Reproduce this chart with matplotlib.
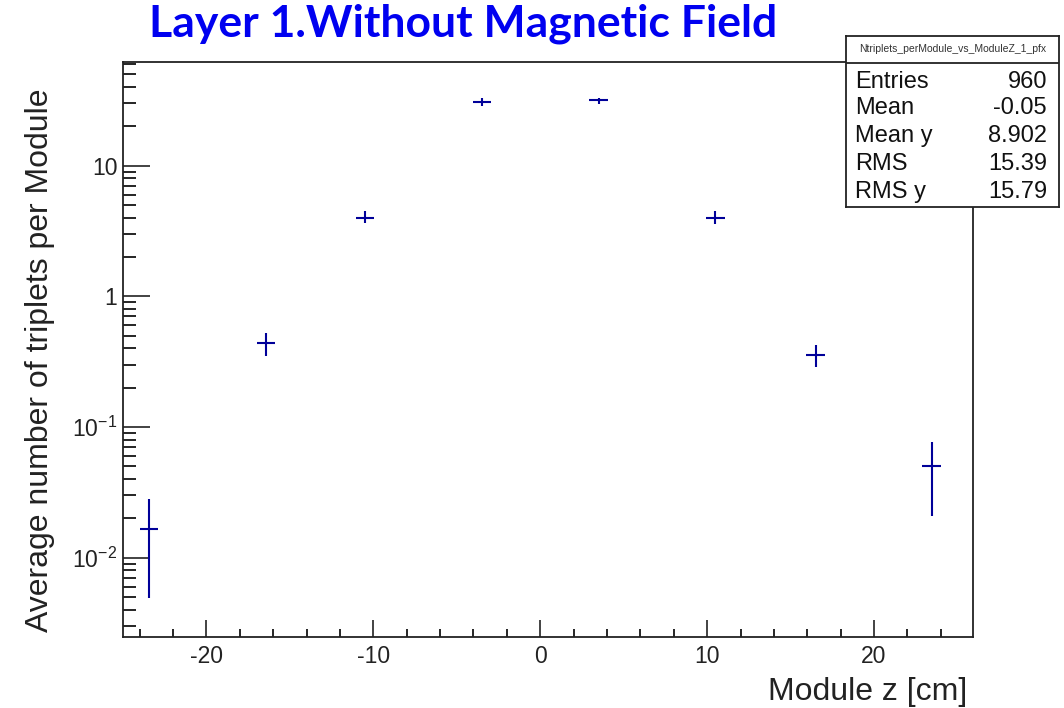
import numpy as np
import matplotlib
matplotlib.use('Agg')
from matplotlib import pyplot as plt
from matplotlib.ticker import LogLocator, MultipleLocator, FixedLocator, FixedFormatter

plt.rcParams['font.family'] = ['Liberation Sans', 'DejaVu Sans']
plt.rcParams['axes.unicode_minus'] = False
plt.rcParams['mathtext.fontset'] = 'custom'
plt.rcParams['mathtext.rm'] = 'Liberation Sans'

# profile of triplets per module vs module z
z = [-23.45, -16.45, -10.5, -3.5, 3.5, 10.5, 16.5, 23.45]
z_halfwidth = 0.55
avg = [0.0166, 0.44, 4.0, 30.7, 31.7, 3.98, 0.356, 0.050]
avg_hi = [0.0281, 0.522, 4.5, 32.8, 32.8, 4.5, 0.425, 0.0772]
avg_lo = [0.00492, 0.352, 3.62, 28.8, 29.6, 3.55, 0.290, 0.0208]

stat_names = ['Entries', 'Mean', 'Mean y', 'RMS', 'RMS y']
stat_values = ['960', '-0.05', '8.902', '15.39', '15.79']
hist_name = 'Ntriplets_perModule_vs_ModuleZ_1_pfx'

avg = np.array(avg)
yerr = [avg - np.array(avg_lo), np.array(avg_hi) - avg]

fig = plt.figure(figsize=(10.64, 7.08), dpi=100)
ax = fig.add_axes([123/1064, 71/708, 850/1064, 575/708])

ax.errorbar(z, avg, xerr=z_halfwidth, yerr=yerr, fmt='none',
            ecolor='#000099', elinewidth=1.5, capsize=0)

ax.set_yscale('log')
ax.set_xlim(-25.0, 25.93)
ax.set_ylim(0.00247, 62)

ax.xaxis.set_major_locator(MultipleLocator(10))
ax.xaxis.set_minor_locator(MultipleLocator(2))
ax.yaxis.set_major_locator(FixedLocator([0.01, 0.1, 1, 10]))
ax.yaxis.set_major_formatter(FixedFormatter([r'$10^{-2}$', r'$10^{-1}$', '1', '10']))
ax.yaxis.set_minor_locator(LogLocator(base=10, subs=np.arange(2, 10)))
ax.yaxis.set_minor_formatter(FixedFormatter([]))

ax.tick_params(axis='x', which='major', direction='in', length=12.2, width=1.2,
               labelsize=16.5, pad=6, colors='#222222')
ax.tick_params(axis='x', which='minor', direction='in', length=5.8, width=1.2)
ax.tick_params(axis='y', which='major', direction='in', length=19.4, width=1.2,
               labelsize=16.5, pad=4, colors='#222222')
ax.tick_params(axis='y', which='minor', direction='in', length=9.4, width=1.2)
for s in ax.spines.values():
    s.set_linewidth(1.3)
    s.set_color('#222222')

fig.text(40/1064, 1 - 360/708, 'Average number of triplets per Module',
         rotation=90, ha='center', va='center', fontsize=23, color='#222222')
fig.text(967/1064, 1 - 692/708, 'Module z [cm]', ha='right', va='center',
         fontsize=23, color='#222222')

fig.text(463/1064, 1 - 24/708, 'Layer 1.Without Magnetic Field', ha='center',
         va='center', fontsize=32, fontweight='bold', family='Lato', color='#0000f0')

# stats box
top, bot, left, right = 35.7, 207.0, 846.0, 1058.7
sb = fig.add_axes([left/1064, 1 - bot/708, (right-left)/1064, (bot-top)/708])
sb.set_xticks([])
sb.set_yticks([])
sb.set_xlim(0, 1)
sb.set_ylim(0, 1)
for s in sb.spines.values():
    s.set_linewidth(1.3)
    s.set_color('#222222')
h = bot - top
sep = 1 - (63.3 - top)/h
sb.axhline(sep, color='#222222', lw=1.3)
sb.text(0.5, (1 + sep)/2, hist_name, ha='center', va='center', fontsize=7.5,
        color='#333333')
row_y = [81.7, 108, 136.0, 164, 191.7]
for name, val, ry in zip(stat_names, stat_values, row_y):
    yy = (bot - ry)/h
    sb.text(0.042, yy, name, ha='left', va='center', fontsize=17, color='#111111')
    sb.text(0.945, yy, val, ha='right', va='center', fontsize=17, color='#111111')

fig.savefig('out.png', dpi=100, facecolor='white')
